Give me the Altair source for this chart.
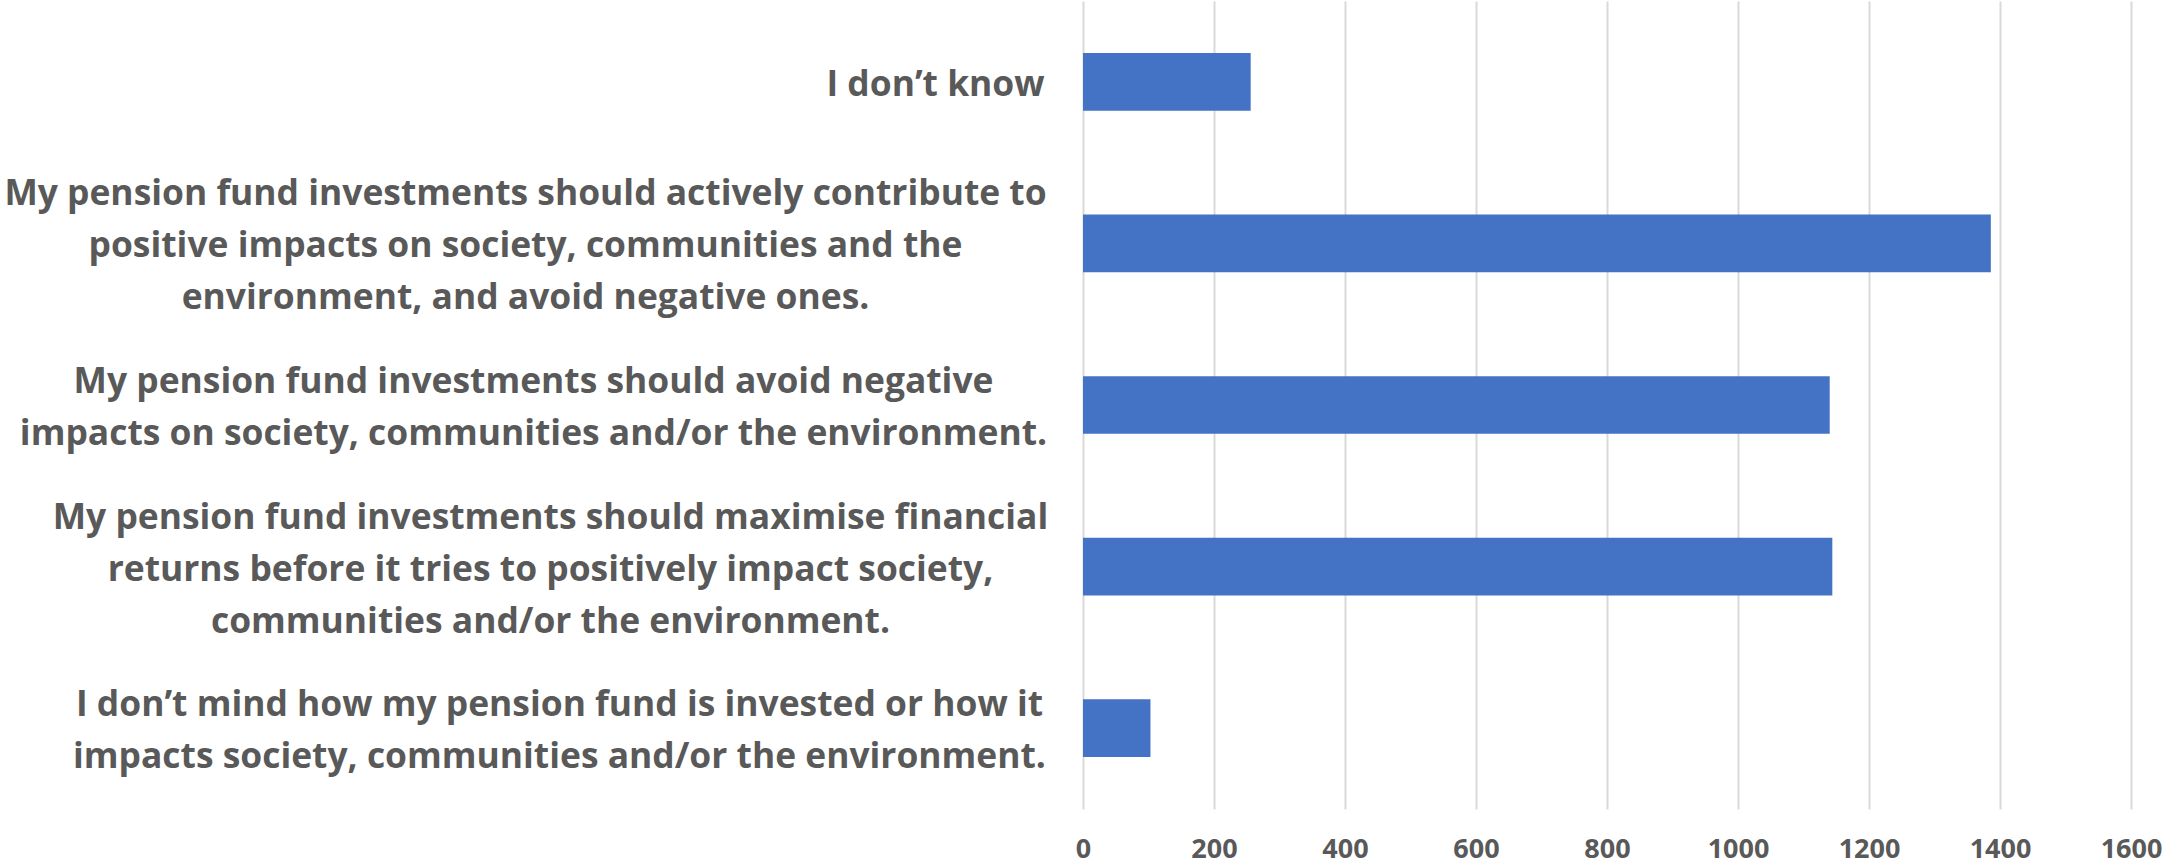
import altair as alt
import pandas as pd

# ---- data ----
categories = [
    "I don’t know",
    "My pension fund investments should actively contribute to|positive impacts on society, communities and the|environment, and avoid negative ones.",
    "My pension fund investments should avoid negative|impacts on society, communities and/or the environment.",
    "My pension fund investments should maximise financial|returns before it tries to positively impact society,|communities and/or the environment.",
    "I don’t mind how my pension fund is invested or how it|impacts society, communities and/or the environment.",
]
values = [256, 1386, 1140, 1144, 103]
x_ticks = [0, 200, 400, 600, 800, 1000, 1200, 1400, 1600]

# ---- styling (label block half-widths, for centred multi-line labels) ----
label_gap = 38
label_half_widths = [110, 520, 512, 495, 486]
line_height = 52
label_shift = 3

df = pd.DataFrame({"label": categories, "value": values})

pad_conditions = [
    {"test": "datum.value === '" + c + "'", "value": label_gap + hw}
    for c, hw in zip(categories, label_half_widths)
]
off_conditions = [
    {"test": "datum.value === '" + c + "'",
     "value": label_shift - (len(c.split("|")) - 1) * line_height / 2}
    for c in categories
]

FONT = "Open Sans"
GREY = "#595959"

chart = (
    alt.Chart(df)
    .mark_bar(color="#4472C4")
    .encode(
        y=alt.Y(
            "label:N",
            sort=categories,
            scale=alt.Scale(paddingInner=0.643, paddingOuter=0.3215),
            axis=alt.Axis(
                title=None,
                domain=False,
                ticks=False,
                grid=False,
                labelExpr="split(datum.value, '|')",
                labelFont=FONT,
                labelFontWeight="bold",
                labelFontSize=35.4,
                labelColor=GREY,
                labelLineHeight=line_height,
                labelLimit=0,
                labelAlign="center",
                labelBaseline="middle",
                labelPadding={"condition": pad_conditions, "value": 500},
                labelOffset={"condition": off_conditions, "value": 0},
            ),
        ),
        x=alt.X(
            "value:Q",
            scale=alt.Scale(domain=[0, 1600], nice=False),
            axis=alt.Axis(
                values=x_ticks,
                format="d",
                title=None,
                domain=False,
                ticks=False,
                grid=True,
                gridColor="#D9D9D9",
                gridWidth=2,
                labelFont=FONT,
                labelFontWeight="bold",
                labelFontSize=27,
                labelColor=GREY,
                labelPadding=27,
                labelFlush=False,
                labelOverlap=False,
            ),
        ),
    )
    .properties(
        width=1048,
        height=808,
        padding={"left": 1083, "top": 1, "right": 34, "bottom": 56},
        autosize="none",
        background="white",
    )
    .configure_view(stroke=None)
)

chart.save("out.html", embed_options={"renderer": "svg", "actions": False})
